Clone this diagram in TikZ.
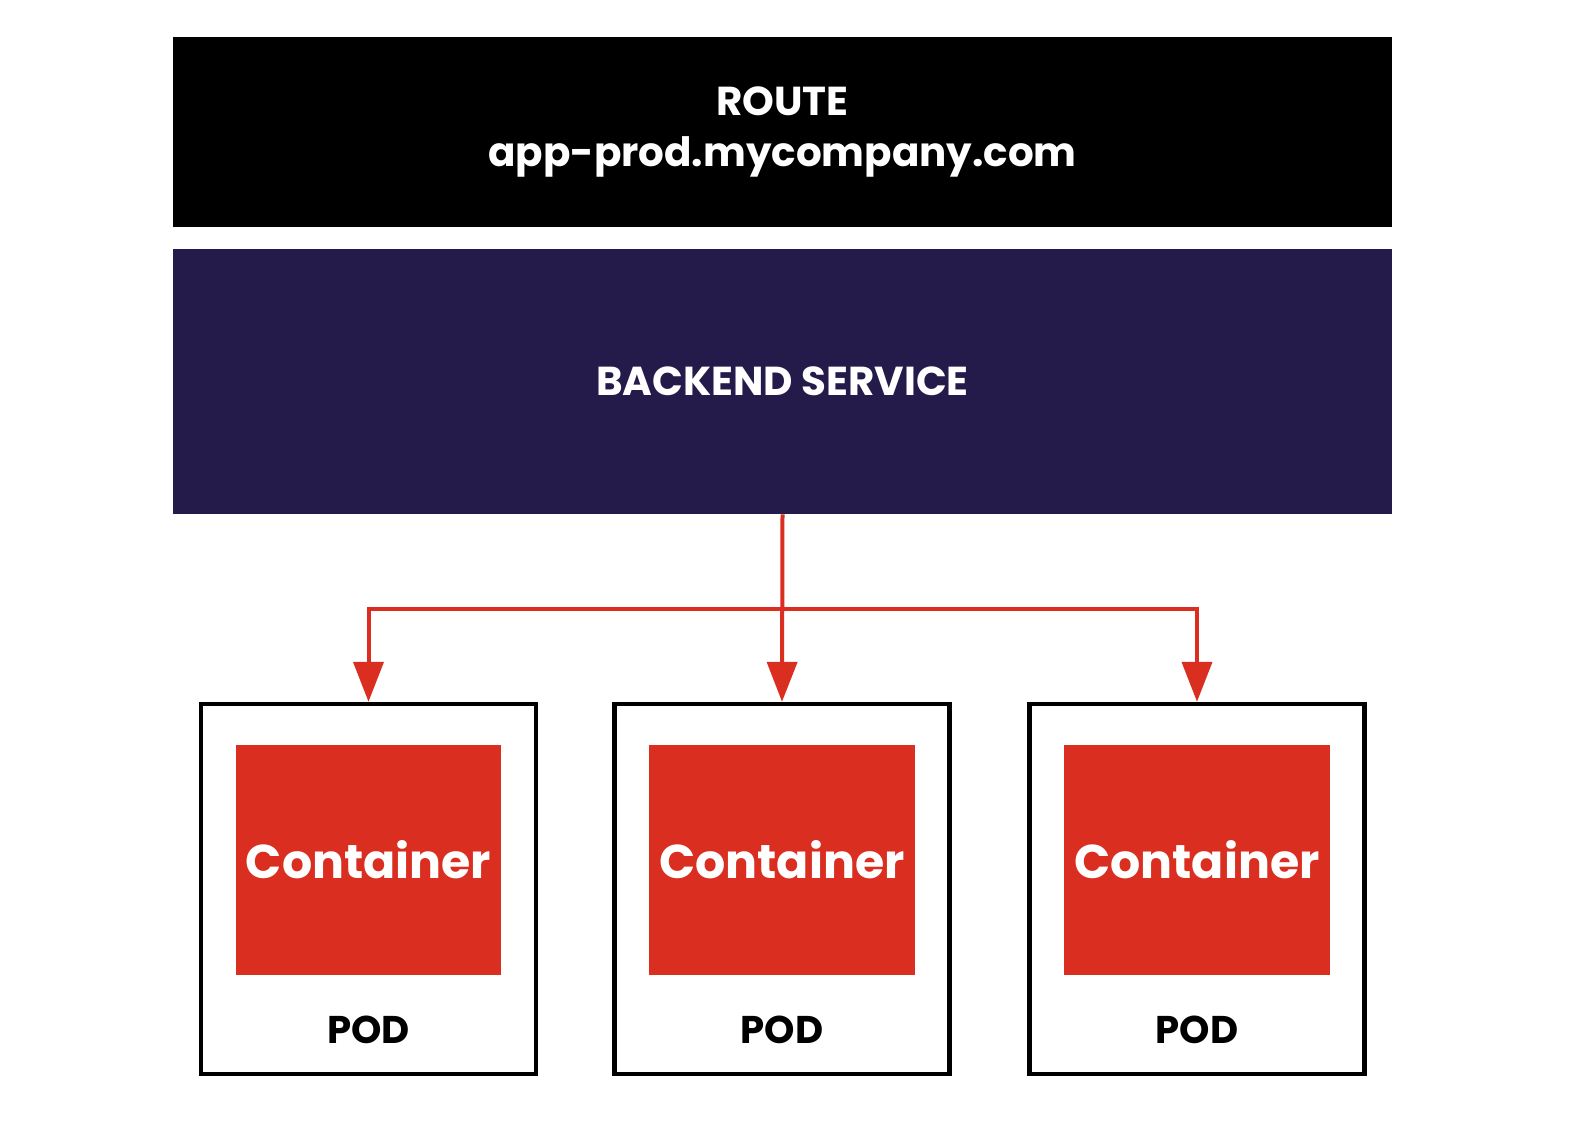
\documentclass[tikz,border=0pt]{standalone}
\usepackage{fontspec}
\setmainfont{Poppins}
\usetikzlibrary{arrows.meta,positioning}
\definecolor{navy}{HTML}{241B4A}
\definecolor{rhred}{HTML}{DA2E20}
\tikzset{
  bar/.style={minimum width=24.38cm, inner sep=0pt, text=white, align=center},
  pod/.style={draw=black, line width=0.09cm, minimum width=6.7cm, minimum height=7.4cm, inner sep=0pt},
  box/.style={fill=rhred, minimum width=5.32cm, minimum height=4.6cm, inner sep=0pt, text=white,
    font=\fontsize{27}{30}\selectfont\bfseries},
  podlabel/.style={font=\fontsize{22}{26}\selectfont\bfseries},
  link/.style={draw=rhred, line width=0.08cm},
  arr/.style={link, -{Triangle[width=0.6cm,length=0.8cm]}}
}
\begin{document}
\begin{tikzpicture}[x=0.02cm,y=-0.02cm]
\useasboundingbox (0,0) rectangle (1572,1122);
% top bars
\node[bar, fill=black, minimum height=3.8cm, font=\fontsize{23}{29}\selectfont\bfseries] (route) at (782.5,132) {ROUTE\\app-prod.mycompany.com};
\node[bar, fill=navy, minimum height=5.3cm, font=\fontsize{23}{28}\selectfont\bfseries] (svc) at (782.5,381.5) {BACKEND SERVICE};
% pods
\foreach \i/\x in {1/368.5, 2/782, 3/1197}{
  \node[pod] (pod\i) at (\x,889) {};
  \node[box] (ctr\i) at (\x,860) {Container};
  \node[podlabel] (lbl\i) at (\x,1030) {POD};
}
% links
\coordinate (split) at (782,609);
\draw[arr] (svc.south) -- (pod2.north);
\draw[arr] (split) -| (pod1.north);
\draw[arr] (split) -| (pod3.north);
\end{tikzpicture}
\end{document}
